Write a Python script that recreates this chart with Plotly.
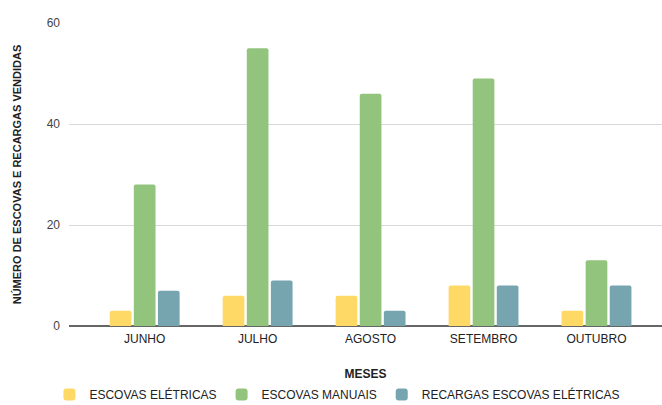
import plotly.graph_objects as go

meses = ["JUNHO", "JULHO", "AGOSTO", "SETEMBRO", "OUTUBRO"]
escovas_eletricas = [3, 6, 6, 8, 3]
escovas_manuais = [28, 55, 46, 49, 13]
recargas = [7, 9, 3, 8, 8]
y_ticks = [0, 20, 40, 60]

series = [
    ("ESCOVAS ELÉTRICAS", escovas_eletricas, "#FFD966"),
    ("ESCOVAS MANUAIS", escovas_manuais, "#93C47D"),
    ("RECARGAS ESCOVAS ELÉTRICAS", recargas, "#76A5AF"),
]

fig = go.Figure()
for name, vals, color in series:
    fig.add_trace(go.Bar(x=meses, y=vals, name=name, marker_color=color,
                         marker_line_width=0))

font_family = "Liberation Sans, Arial, sans-serif"
fig.update_layout(
    width=662, height=405,
    margin=dict(l=69, r=0, t=23, b=79, autoexpand=False),
    paper_bgcolor="white", plot_bgcolor="white",
    barmode="group", bargap=0.36, bargroupgap=0.1, barcornerradius=2,
    font=dict(family=font_family, size=12, color="#444"),
    legend=dict(orientation="h", x=-0.033, xanchor="left", y=-0.178,
                yanchor="top", font=dict(size=12, color="#222"),
                itemclick=False, traceorder="normal"),
    xaxis=dict(range=[-0.67, 4.58], showgrid=False, ticks="",
               ticklabelstandoff=4,
               tickfont=dict(size=12, color="#222"),
               title=dict(text="<b>MESES</b>", font=dict(size=12, color="#222"),
                          standoff=24)),
    yaxis=dict(range=[0, 60], tickvals=y_ticks, showgrid=True,
               gridcolor="#d9d9d9", gridwidth=1, zeroline=True,
               zerolinecolor="#666", zerolinewidth=1.5, ticks="",
               ticklabelstandoff=8, tickfont=dict(size=12, color="#444"),
               title=dict(text="<b>NÚMERO DE ESCOVAS E RECARGAS VENDIDAS</b>",
                          font=dict(size=11, color="#222"), standoff=22)),
)

fig.write_html("out.html")
